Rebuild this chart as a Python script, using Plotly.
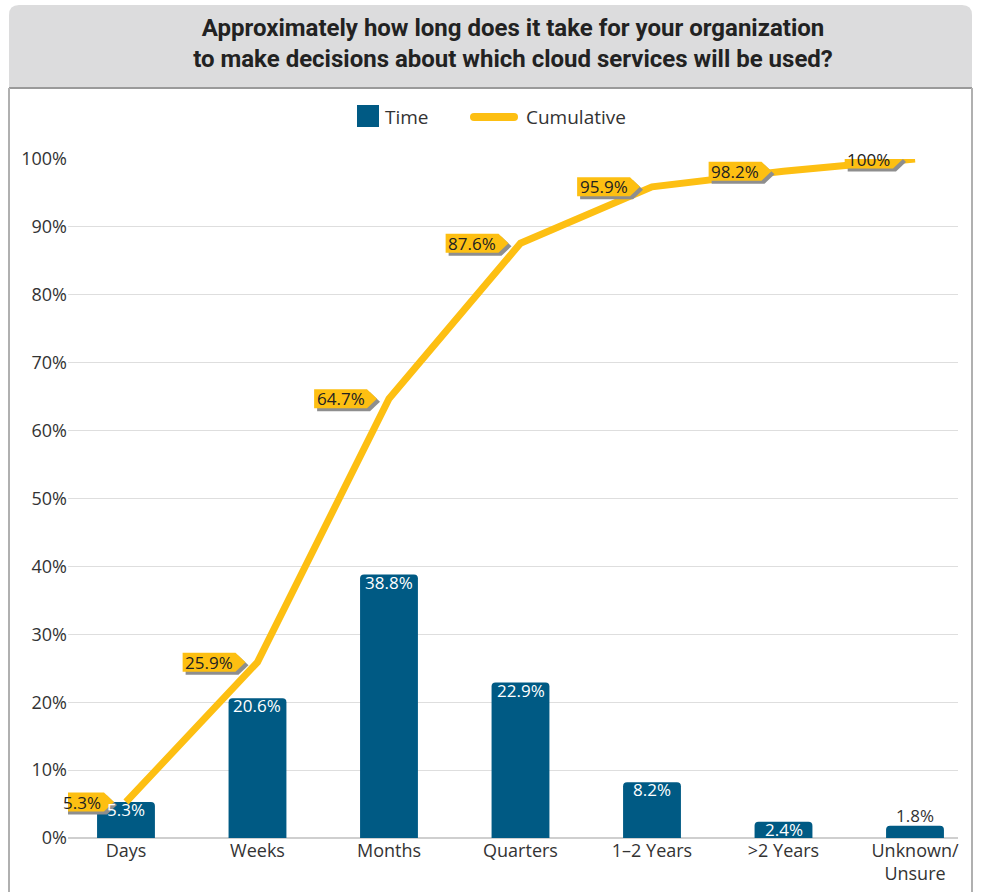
import plotly.graph_objects as go

categories = ["Days", "Weeks", "Months", "Quarters", "1–2 Years", ">2 Years", "Unknown/<br>Unsure"]
time_pct = [5.3, 20.6, 38.8, 22.9, 8.2, 2.4, 1.8]
cumulative_pct = [5.3, 25.9, 64.7, 87.6, 95.9, 98.2, 100]
y_ticks = [0, 10, 20, 30, 40, 50, 60, 70, 80, 90, 100]
y_tick_labels = [f"{v}%" for v in y_ticks]

W, H = 981, 892
L, R, T, B = 68, 23, 159, 54
PW, PH = W - L - R, H - T - B

BLUE = "#005a84"
GOLD = "#fdbf12"
FONT = "Open Sans"


def px(x):
    return (x - L) / PW


def py(y):
    return (H - B - y) / PH


def text_width(s, size=17):
    w = {".": 0.27, "%": 0.83}
    return sum(w.get(c, 0.572) for c in s) * size


fig = go.Figure()

fig.add_trace(go.Bar(
    x=categories, y=time_pct, name="Time",
    marker=dict(color=BLUE, cornerradius=4, line=dict(width=0)),
    textposition="none", showlegend=False,
))

fig.add_trace(go.Scatter(
    x=categories, y=cumulative_pct, name="Cumulative", mode="lines",
    line=dict(color=GOLD, width=7), cliponaxis=False, showlegend=False,
))

shapes = []
annotations = []

# bar value labels (inside at top, last one above the bar)
for i, (cat, v) in enumerate(zip(categories, time_pct)):
    inside = i < len(time_pct) - 1
    annotations.append(dict(
        x=cat, y=v, xref="x", yref="y", text=f"{v:g}%", showarrow=False,
        xanchor="center", yanchor="top" if inside else "bottom",
        yshift=5 if inside else -2, borderpad=0,
        font=dict(size=17, color="white" if inside else "#333333", family=FONT)))

# header box
r = 10
x0, x1, y0, y1 = 9, 972, 5, 88
hdr = (f"M {px(x0)},{py(y1)} L {px(x0)},{py(y0 + r)} "
       f"Q {px(x0)},{py(y0)} {px(x0 + r)},{py(y0)} "
       f"L {px(x1 - r)},{py(y0)} Q {px(x1)},{py(y0)} {px(x1)},{py(y0 + r)} "
       f"L {px(x1)},{py(y1)} Z")
shapes.append(dict(type="path", xref="paper", yref="paper", path=hdr,
                   fillcolor="#dcdcdd", line=dict(width=0), layer="below"))
shapes.append(dict(type="line", xref="paper", yref="paper",
                   x0=px(x0), x1=px(x1), y0=py(y1), y1=py(y1),
                   line=dict(color="#9a9a9a", width=2)))
for xx in (x0, x1):
    shapes.append(dict(type="line", xref="paper", yref="paper",
                       x0=px(xx), x1=px(xx), y0=py(y1), y1=py(H + 2),
                       line=dict(color="#b0b0b0", width=2)))

# legend
shapes.append(dict(type="rect", xref="paper", yref="paper",
                   x0=px(357), x1=px(379), y0=py(127), y1=py(105),
                   fillcolor=BLUE, line=dict(width=0)))
shapes.append(dict(type="line", xref="paper", yref="paper",
                   x0=px(474), x1=px(514), y0=py(117), y1=py(117),
                   line=dict(color=GOLD, width=8)))
for xx in (474, 514):
    shapes.append(dict(type="circle", xref="paper", yref="paper",
                       x0=px(xx - 4), x1=px(xx + 4), y0=py(121), y1=py(113),
                       fillcolor=GOLD, line=dict(width=0)))
annotations.append(dict(xref="paper", yref="paper", x=px(383), y=py(117),
                        text="Time", showarrow=False, xanchor="left", yanchor="middle",
                        font=dict(size=19, color="#333333", family=FONT)))
annotations.append(dict(xref="paper", yref="paper", x=px(524), y=py(117),
                        text="Cumulative", showarrow=False, xanchor="left", yanchor="middle",
                        font=dict(size=19, color="#333333", family=FONT)))

# cumulative tags
tip_off, tip_w, half_h = 12, 10, 9.5
for cat, v in zip(categories, cumulative_pct):
    label = f"{v:g}%"
    w = text_width(label) + 5
    xr = -(tip_off + tip_w)
    xl = xr - w

    def tag(dx, dy):
        return (f"M {xl + dx},{half_h + dy} L {xr + dx},{half_h + dy} "
                f"L {-tip_off + dx},{dy} L {xr + dx},{-half_h + dy} "
                f"L {xl + dx},{-half_h + dy} Z")

    for dx, dy, col in ((3, -3, "#8e8e8e"), (0, 0, GOLD)):
        shapes.append(dict(type="path", xref="x", yref="y",
                           xsizemode="pixel", ysizemode="pixel",
                           xanchor=cat, yanchor=v, path=tag(dx, dy),
                           fillcolor=col, line=dict(width=0), layer="above"))
    annotations.append(dict(x=cat, y=v, xref="x", yref="y", text=label,
                            showarrow=False, xanchor="center", yanchor="middle",
                            xshift=xl + w / 2, yshift=0,
                            font=dict(size=17, color="#222222", family=FONT)))

fig.update_layout(
    width=W, height=H,
    margin=dict(l=L, r=R, t=T, b=B, pad=0),
    paper_bgcolor="white", plot_bgcolor="white",
    font=dict(family=FONT, color="#333333", size=18),
    title=dict(text="<b>Approximately how long does it take for your organization<br>"
                    "to make decisions about which cloud services will be used?</b>",
               x=0.5, xanchor="center", xref="paper",
               y=1 - 36 / H, yanchor="middle", yref="container",
               font=dict(family="Roboto", size=24, color="#222222")),
    bargap=0.56,
    shapes=shapes, annotations=annotations,
    showlegend=False,
)
fig.update_xaxes(type="category", range=[-0.441, 6.327], showgrid=False,
                 showline=False, zeroline=False, ticks="", automargin=False,
                 tickfont=dict(size=18, color="#333333", family=FONT))
fig.update_yaxes(range=[0, 100], tickmode="array", tickvals=y_ticks, ticktext=y_tick_labels,
                 showgrid=True, gridcolor="#dedede", gridwidth=1,
                 zeroline=True, zerolinecolor="#cfcfcf", zerolinewidth=1.5,
                 showline=False, ticks="", automargin=False,
                 tickfont=dict(size=18, color="#333333", family=FONT))

fig.write_html("out.html", config={"displayModeBar": False},
               post_script="document.body.style.margin='0px';")
